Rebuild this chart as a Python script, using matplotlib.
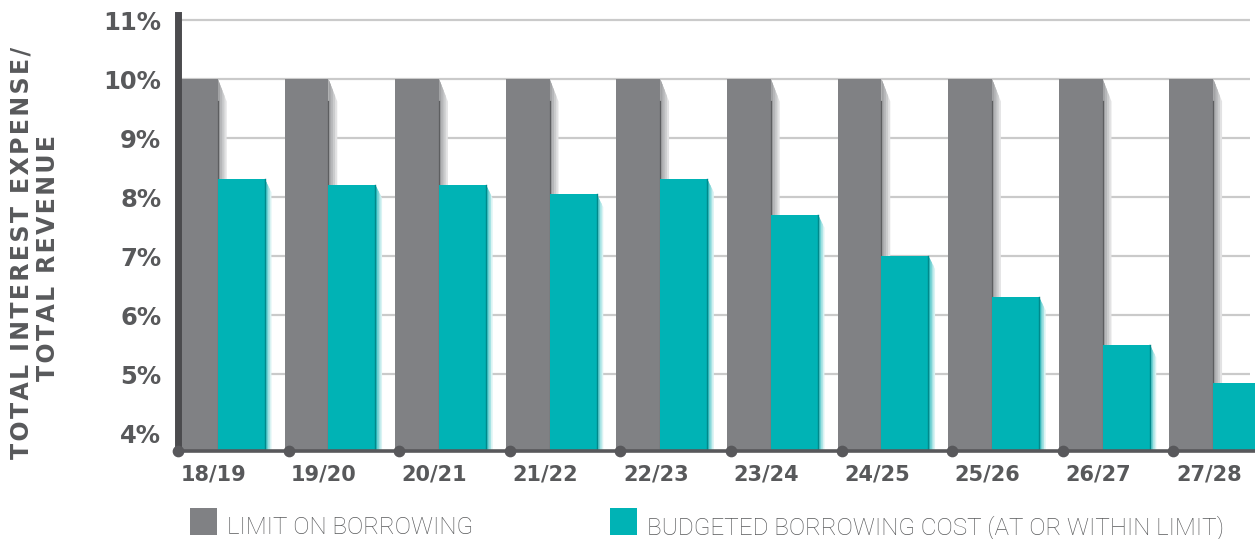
import matplotlib
matplotlib.use('Agg')
import matplotlib.pyplot as plt
from matplotlib.patches import Rectangle

# data
years = ["18/19", "19/20", "20/21", "21/22", "22/23", "23/24", "24/25", "25/26", "26/27", "27/28"]
limit_on_borrowing = [10, 10, 10, 10, 10, 10, 10, 10, 10, 10]
budgeted_cost = [8.3, 8.2, 8.2, 8.05, 8.3, 7.7, 7.0, 6.3, 5.5, 4.85]
y_ticks = [4, 5, 6, 7, 8, 9, 10, 11]

GREY = '#808184'
TEAL = '#00b3b5'
TEXT = '#58595b'
W, H = 1255, 539
PITCH = 110.6  # pixels per year group

fig = plt.figure(figsize=(W / 100, H / 100), dpi=100)
ax = fig.add_axes([178 / W, 88 / H, (W - 178) / W, (451 - 15) / H])
ymin, ymax = 3.695, 11.085
ax.set_xlim(0, (W - 178) / PITCH)
ax.set_ylim(ymin, ymax)

x = list(range(len(years)))

# horizontal grid
ax.hlines(y_ticks[1:], 0, (1250 - 178) / PITCH, color='#cacaca', lw=1.6, zorder=0)


def shadow(xr, top, width, slant, colors, z):
    # soft 3D side of a bar, darkest next to the bar
    n = len(colors)
    for k, c in enumerate(colors):
        wk = width * (n - k) / n
        ax.fill([xr, xr + wk, xr + wk, xr],
                [top, top - slant * wk / width, ymin, ymin],
                color=c, lw=0, zorder=z)


grey_left, grey_w = -0.036, 0.396
teal_left, teal_w = 0.36, 0.425

for i in x:
    xr = i + grey_left + grey_w
    shadow(xr, limit_on_borrowing[i], 0.08, 0.38,
           ['#e2e2e3', '#cbcccd', '#b6b7b9', '#a2a3a5'], 1)
    ax.plot([xr, xr], [ymin, limit_on_borrowing[i] - 0.38], color='#5d5e60', lw=0.9, zorder=2.2)
    tr = i + teal_left + teal_w
    shadow(tr, budgeted_cost[i], 0.06, 0.22,
           ['#d9f3f3', '#a6e3e4', '#6fd0d2', '#33bfc1'], 2.5)

ax.bar([i + grey_left for i in x], limit_on_borrowing, width=grey_w, align='edge',
       color=GREY, lw=0, zorder=2)
ax.bar([i + teal_left for i in x], budgeted_cost, width=teal_w, align='edge',
       color=TEAL, lw=0, zorder=3)
for i in x:
    tr = i + teal_left + teal_w
    ax.plot([tr, tr], [ymin, budgeted_cost[i]], color='#00898b', lw=1.0, zorder=3.2)

# axes
for s in ['top', 'right']:
    ax.spines[s].set_visible(False)
ax.spines['left'].set_linewidth(5)
ax.spines['left'].set_color('#4b4b4e')
ax.spines['left'].set_zorder(6)
ax.spines['bottom'].set_linewidth(2.6)
ax.spines['bottom'].set_color('#58585b')
ax.spines['bottom'].set_zorder(6)
ax.scatter(x, [ymin] * len(x), s=55, color='#58585b', clip_on=False, zorder=7)

ax.set_yticks(y_ticks)
ax.set_yticklabels([f"{v}%" for v in y_ticks], fontsize=17.5, fontweight='bold',
                   color=TEXT, family='DejaVu Sans')
ax.set_xticks([i + 0.32 for i in x])
ax.set_xticklabels(years, fontsize=15, fontweight='bold', color=TEXT, family='DejaVu Sans')
ax.tick_params(axis='y', length=0, pad=12)
ax.tick_params(axis='x', length=0, pad=10)


def spaced(s):
    return '\u200a'.join(s)


# y axis title
fig.text(22 / W, 1 - 253 / H, spaced("TOTAL INTEREST EXPENSE/"), rotation=90,
         ha='center', va='center', fontsize=17, fontweight='bold', color=TEXT,
         family='DejaVu Sans')
fig.text(48 / W, 1 - 258 / H, spaced("TOTAL REVENUE"), rotation=90,
         ha='center', va='center', fontsize=17, fontweight='bold', color=TEXT,
         family='DejaVu Sans')

# legend
legend_items = [(190, GREY, "LIMIT ON BORROWING"),
                (610, TEAL, "BUDGETED BORROWING COST (AT OR WITHIN LIMIT)")]
for px, col, label in legend_items:
    fig.add_artist(Rectangle((px / W, (H - 535) / H), 27 / W, 27 / H,
                             transform=fig.transFigure, color=col, lw=0))
    fig.text((px + 37) / W, (H - 534) / H, label, ha='left', va='baseline',
             fontsize=17.5, fontweight='light', color='#58595b',
             family=['Roboto', 'DejaVu Sans'])

fig.savefig('out.png', dpi=100)
